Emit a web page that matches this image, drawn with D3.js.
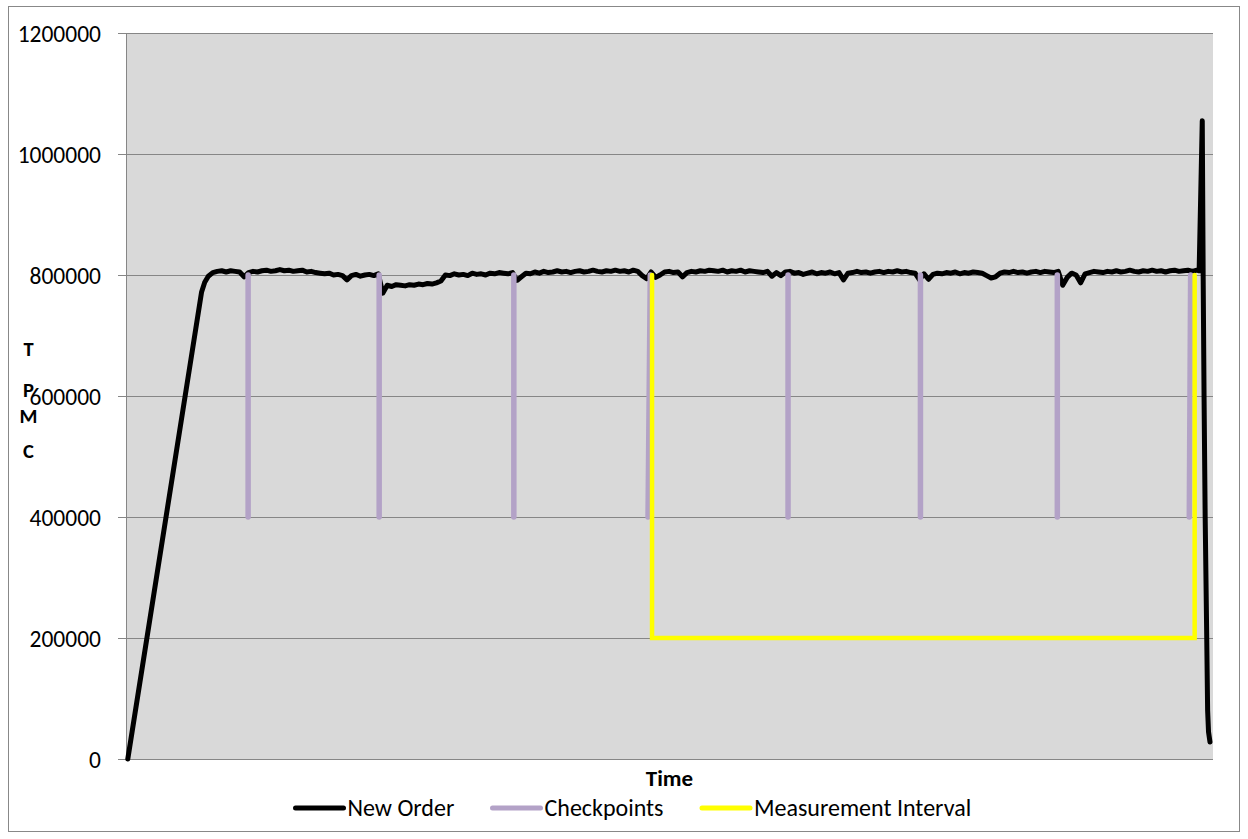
<!DOCTYPE html>
<html><head><meta charset="utf-8">
<script src="https://cdn.jsdelivr.net/npm/d3@7"></script>
<style>html,body{margin:0;padding:0;background:#fff;} svg{display:block;}</style>
</head><body>
<svg id="chart" width="1248" height="839"></svg>
<script>
// ---- data ----
const yTicks = [0, 200000, 400000, 600000, 800000, 1000000, 1200000];
const yTickLabels = ["0", "200000", "400000", "600000", "800000", "1000000", "1200000"];
const xTitle = "Time";
const yTitleLetters = ["T", "P", "M", "C"];
const seriesNames = ["New Order", "Checkpoints", "Measurement Interval"];
const seriesColors = ["#000000", "#b3a2c7", "#ffff00"];

// New Order: ramp-up (minutes, tpmC)
const rampTime = [0, 16.5, 17.2, 18, 19];
const rampTpm = [0, 772000, 788000, 798000, 804000];
// steady state, one value per minute starting at minute 20
const steadyStartMinute = 20;
const steadyTpm = [
 806000,807000,805000,807000,806000,805000,797000,804000,806000,805000,
 807000,808000,806000,807000,809000,807000,808000,806000,807000,808000,
 805000,806000,804000,803000,802000,803000,800000,801000,799000,792000,
 799000,801000,798000,800000,801000,799000,802000,770000,783000,781000,
 784000,783000,782000,784000,783000,785000,784000,786000,785000,787000,
 790000,800000,799000,802000,800000,801000,799000,803000,801000,802000,
 800000,803000,802000,804000,803000,802000,804000,791000,797000,803000,
 802000,805000,803000,806000,804000,805000,807000,805000,806000,804000,
 806000,807000,805000,806000,808000,806000,805000,807000,806000,808000,
 806000,807000,805000,808000,806000,799000,794000,805000,796000,800000,
 805000,806000,804000,805000,797000,804000,806000,805000,807000,806000,
 808000,807000,806000,808000,805000,807000,806000,808000,805000,807000,
 806000,805000,804000,806000,798000,804000,799000,805000,806000,803000,
 804000,801000,803000,805000,802000,804000,803000,805000,802000,804000,
 792000,803000,804000,806000,804000,805000,803000,805000,806000,804000,
 806000,805000,807000,805000,806000,804000,803000,792000,802000,793000,
 801000,803000,802000,804000,803000,805000,802000,804000,803000,805000,
 804000,803000,799000,795000,797000,803000,805000,804000,806000,804000,
 805000,803000,805000,806000,804000,806000,805000,804000,806000,783000,
 796000,803000,800000,787000,802000,804000,806000,805000,804000,806000,
 805000,807000,805000,806000,808000,806000,805000,807000,806000,808000,
 806000,807000,805000,807000,808000,806000,807000,808000,806000,808000
];
// ramp-down tail
const tailTime = [239.5, 240.2, 240.4, 240.6, 240.85, 241.2, 241.4, 241.6, 241.93];
const tailTpm = [807000, 1055000, 800000, 600000, 400000, 200000, 80000, 45000, 28000];

// Checkpoints
const checkpointTopTime = [26.9, 56.2, 86.3, 116.8, 147.6, 177.2, 207.8, 237.6];
const checkpointBottomTime = [26.9, 56.2, 86.3, 116.3, 147.6, 177.2, 207.8, 237.3];
const checkpointHigh = 800000;
const checkpointLow = 400000;

// Measurement interval
const miTime = [117.2, 117.2, 238.5, 238.5];
const miTpm = [800000, 200000, 200000, 800000];

// ---- drawing ----
const svg = d3.select("#chart");
const plot = {left: 126, right: 1213, top: 33, bottom: 759};
const fontFam = "Carlito, 'Liberation Sans', Arial, sans-serif";

svg.append("rect").attr("x", 8.5).attr("y", 6.5).attr("width", 1231).attr("height", 825)
  .attr("fill", "#fff").attr("stroke", "#888").attr("stroke-width", 1);

const x = d3.scaleLinear().domain([-0.4, 242.6]).range([plot.left, plot.right]);
const y = d3.scaleLinear().domain([0, 1200000]).range([plot.bottom, plot.top]);

svg.append("rect").attr("x", plot.left).attr("y", plot.top)
  .attr("width", plot.right - plot.left).attr("height", plot.bottom - plot.top)
  .attr("fill", "#d9d9d9");

// gridlines + y axis
const yAxis = d3.axisLeft(y).tickValues(yTicks)
  .tickFormat((d, i) => yTickLabels[i])
  .tickSize(-(plot.right - plot.left)).tickSizeOuter(0).tickPadding(25);
const gy = svg.append("g").attr("transform", `translate(${plot.left},0)`).call(yAxis);
gy.select(".domain").remove();
gy.selectAll(".tick line").attr("stroke", "#868686").attr("stroke-width", 1)
  .attr("x1", -8);
gy.selectAll(".tick text").attr("font-family", fontFam).attr("font-size", "23.5px")
  .attr("fill", "#000").attr("dy", "0.34em");
svg.append("line").attr("x1", plot.left + 0.5).attr("x2", plot.left + 0.5)
  .attr("y1", plot.top).attr("y2", plot.bottom).attr("stroke", "#868686");

// series
const line = d3.line().x(d => x(d[0])).y(d => y(d[1]));
const newOrder = [];
rampTime.forEach((t, i) => newOrder.push([t, rampTpm[i]]));
steadyTpm.forEach((v, i) => newOrder.push([steadyStartMinute + i, v]));
tailTime.forEach((t, i) => newOrder.push([t, tailTpm[i]]));

svg.append("path").datum(newOrder).attr("d", line).attr("fill", "none")
  .attr("stroke", seriesColors[0]).attr("stroke-width", 5)
  .attr("stroke-linejoin", "round").attr("stroke-linecap", "round");

checkpointTopTime.forEach((t, i) => {
  svg.append("path").datum([[t, checkpointHigh], [checkpointBottomTime[i], checkpointLow]])
    .attr("d", line).attr("fill", "none").attr("stroke", seriesColors[1])
    .attr("stroke-width", 5.5).attr("stroke-linecap", "round");
});

svg.append("path").datum(miTime.map((t, i) => [t, miTpm[i]])).attr("d", line)
  .attr("fill", "none").attr("stroke", seriesColors[2]).attr("stroke-width", 4.5)
  .attr("stroke-linejoin", "miter").attr("stroke-linecap", "round");

// axis titles
svg.append("text").attr("x", (plot.left + plot.right) / 2).attr("y", 786)
  .attr("text-anchor", "middle").attr("font-family", fontFam)
  .attr("font-weight", "bold").attr("font-size", "23px").text(xTitle);

const letterBase = [356, 397, 423, 458];
yTitleLetters.forEach((c, i) => {
  svg.append("text").attr("x", 28.5).attr("y", letterBase[i])
    .attr("text-anchor", "middle").attr("font-family", fontFam)
    .attr("font-weight", "bold").attr("font-size", "20.5px").text(c);
});

// legend
const legendX = [295.5, 492.5, 702];
const legY = 808;
seriesNames.forEach((n, i) => {
  svg.append("line").attr("x1", legendX[i]).attr("x2", legendX[i] + 48)
    .attr("y1", legY).attr("y2", legY).attr("stroke", seriesColors[i])
    .attr("stroke-width", 5).attr("stroke-linecap", "round");
  svg.append("text").attr("x", legendX[i] + 52).attr("y", legY + 7.5)
    .attr("font-family", fontFam).attr("font-size", "24px").attr("fill", "#000").text(n);
});
</script>
</body></html>
